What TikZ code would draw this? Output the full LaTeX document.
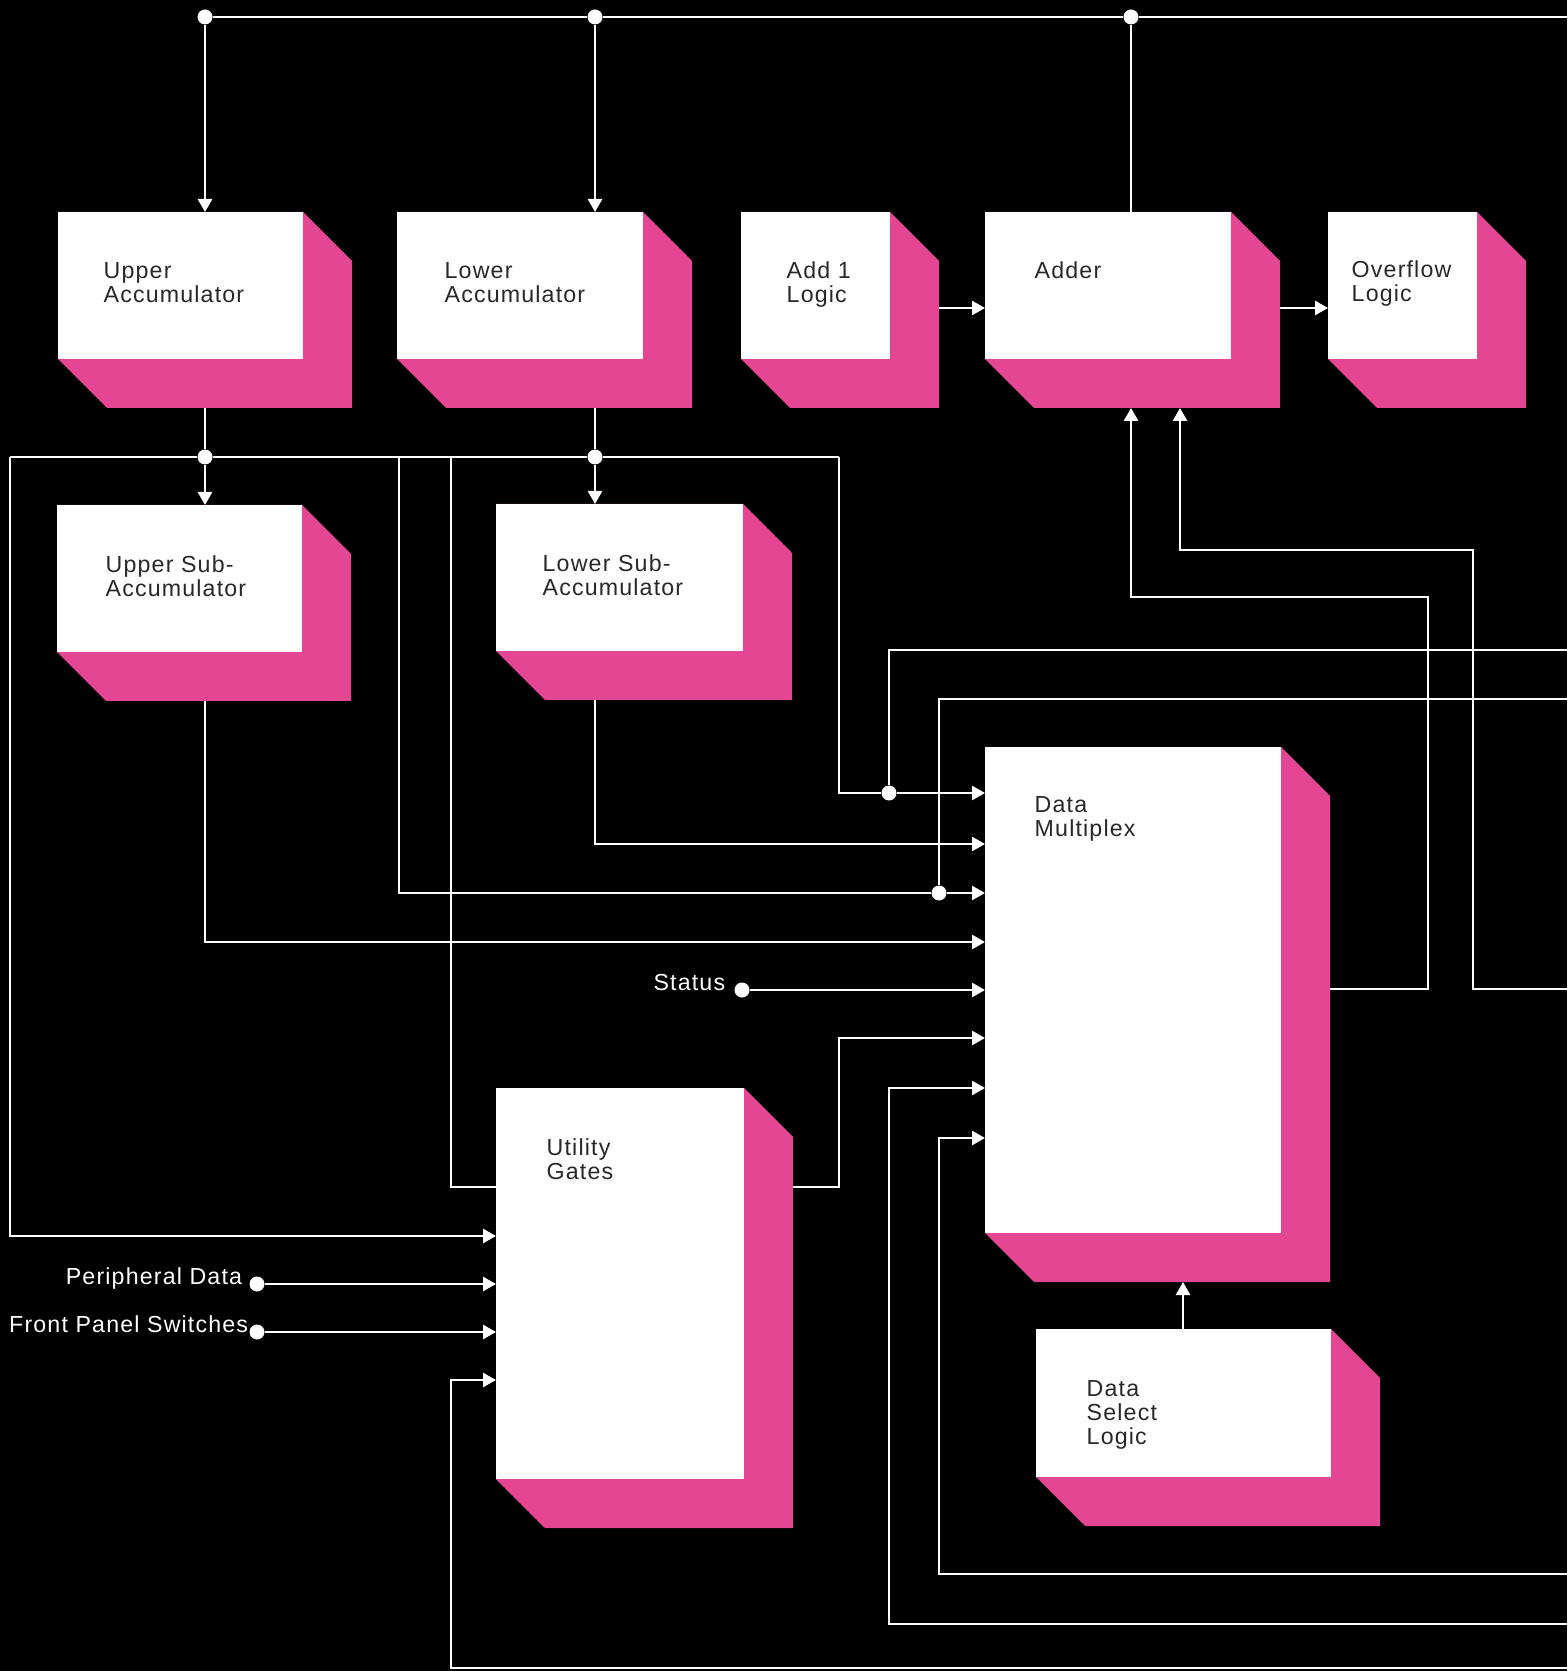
\documentclass[tikz,border=0pt]{standalone}
\usepackage{fontspec}
\setmainfont{Liberation Sans}[LetterSpace=5]
\usetikzlibrary{arrows.meta,positioning}

\definecolor{blockpink}{RGB}{229,70,148}
\definecolor{blocktext}{RGB}{40,40,40}
\def\dep{4.9mm}

\tikzset{
  wire/.style={draw=white, line width=0.26mm},
  arr/.style={wire, -{Triangle[length=1.3mm,width=1.4mm]}},
  dot/.style={circle, fill=white, inner sep=0pt, minimum size=1.5mm},
  block/.style={rectangle, anchor=north west, inner sep=0pt, outer sep=0pt, fill=black,
    path picture={
      \fill[blockpink] (path picture bounding box.north west)
        -- ([xshift=-\dep]path picture bounding box.north east)
        -- ([yshift=-\dep]path picture bounding box.north east)
        -- (path picture bounding box.south east)
        -- ([xshift=\dep]path picture bounding box.south west)
        -- ([yshift=\dep]path picture bounding box.south west) -- cycle;
      \fill[white] (path picture bounding box.north west)
        rectangle ([shift={(-\dep,\dep)}]path picture bounding box.south east);
    }},
  lbl/.style={inner sep=0pt, align=left, text=blocktext,
    font=\fontsize{6.6}{6.8}\selectfont},
  ext/.style={inner sep=0pt, text=white, font=\fontsize{6.6}{6.8}\selectfont}
}

\begin{document}
\begin{tikzpicture}[x=0.1mm, y=-0.1mm]
  \fill[black] (0,0) rectangle (1567,1671);
  \useasboundingbox (0,0) rectangle (1567,1671);

  % blocks
  \node[block, minimum width=29.4mm, minimum height=19.6mm] (ua)  at (58,212)   {};
  \node[block, minimum width=29.5mm, minimum height=19.6mm] (la)  at (397,212)  {};
  \node[block, minimum width=19.8mm, minimum height=19.6mm] (aol) at (741,212)  {};
  \node[block, minimum width=29.5mm, minimum height=19.6mm] (add) at (985,212)  {};
  \node[block, minimum width=19.8mm, minimum height=19.6mm] (ovf) at (1328,212) {};
  \node[block, minimum width=29.4mm, minimum height=19.6mm] (usa) at (57,505)   {};
  \node[block, minimum width=29.6mm, minimum height=19.6mm] (lsa) at (496,504)  {};
  \node[block, minimum width=34.5mm, minimum height=53.5mm] (dm)  at (985,747)  {};
  \node[block, minimum width=29.7mm, minimum height=44.0mm] (ug)  at (496,1088) {};
  \node[block, minimum width=34.4mm, minimum height=19.7mm] (dsl) at (1036,1329) {};

  \node[lbl, below right=5.0mm and 4.5mm of ua.north west]  (uaT)  {Upper\\Accumulator};
  \node[lbl, below right=5.0mm and 4.7mm of la.north west]  (laT)  {Lower\\Accumulator};
  \node[lbl, below right=4.9mm and 4.5mm of aol.north west] (aolT) {Add 1\\Logic};
  \node[lbl, below right=4.9mm and 4.9mm of add.north west] (addT) {Adder};
  \node[lbl, below right=4.8mm and 2.3mm of ovf.north west] (ovfT) {Overflow\\Logic};
  \node[lbl, below right=5.0mm and 4.8mm of usa.north west] (usaT) {Upper Sub-\\Accumulator};
  \node[lbl, below right=5.0mm and 4.6mm of lsa.north west] (lsaT) {Lower Sub-\\Accumulator};
  \node[lbl, below right=4.9mm and 4.9mm of dm.north west]  (dmT)  {Data\\Multiplex};
  \node[lbl, below right=5.0mm and 5.0mm of ug.north west]  (ugT)  {Utility\\Gates};
  \node[lbl, below right=5.1mm and 5.0mm of dsl.north west] (dslT) {Data\\Select\\Logic};

  % junctions and inputs
  \node[dot] (t1) at (205,17)  {};
  \node[dot] (t2) at (595,17)  {};
  \node[dot] (t3) at (1131,17) {};
  \node[dot] (b1) at (205,457) {};
  \node[dot] (b2) at (595,457) {};
  \node[dot] (m1) at (889,793) {};
  \node[dot] (m3) at (939,893) {};
  \node[dot] (st) at (742,990) {};
  \node[dot] (pd) at (257,1284) {};
  \node[dot] (fp) at (257,1332) {};

  \node[ext, left=0.8mm of st.west, anchor=base east] (stT) {Status};
  \node[ext, left=0.6mm of pd.west, anchor=base east] (pdT) {Peripheral Data};
  \node[ext, left=0.0mm of fp.west, anchor=base east] (fpT) {Front Panel Switches};

  \coordinate (topR) at (1567,17);
  \coordinate (bl)   at (10,457);
  \coordinate (bx1)  at (399,457);
  \coordinate (bx2)  at (451,457);
  \coordinate (br)   at (839,457);
  \coordinate (selA) at (1567,650);
  \coordinate (selB) at (1567,699);
  \coordinate (sumB) at (1567,989);
  \coordinate (inB)  at (1567,1574);
  \coordinate (inA)  at (1567,1624);
  \coordinate (inC)  at (1567,1668);

  % top bus
  \draw[wire] (t1) -- (t2) -- (t3) -- (topR);
  \draw[arr] (t1) -- (t1 |- ua.north);
  \draw[arr] (t2) -- (t2 |- la.north);
  \draw[wire] (t3) -- (t3 |- add.north);

  % accumulator bus
  \draw[arr] (t1 |- ua.south) -- (b1) -- (b1 |- usa.north);
  \draw[arr] (t2 |- la.south) -- (b2) -- (b2 |- lsa.north);
  \draw[wire] (bl) -- (b1) -- (b2) -- (br);
  \draw[arr] (br) |- (m1) -- (m1 -| dm.west);
  \draw[wire] (m1) |- (selA);
  \draw[wire] (m3) |- (selB);
  \draw[arr] (bx1) |- (m3) -- (m3 -| dm.west);
  \draw[wire] (bx2) |- (ug.west |- 0,1187);
  \draw[arr] (bl) |- (ug.west |- 0,1236);

  % into data multiplex
  \draw[arr] (b2 |- lsa.south) |- (dm.west |- 0,844);
  \draw[arr] (b1 |- usa.south) |- (dm.west |- 0,942);
  \draw[arr] (st) -- (st -| dm.west);
  \draw[arr] (ug.east |- 0,1187) -| (br |- 0,1038) -- (dm.west |- 0,1038);
  \draw[arr] (inA) -| (m1 |- 0,1088) -- (dm.west |- 0,1088);
  \draw[arr] (inB) -| (m3 |- 0,1138) -- (dm.west |- 0,1138);
  \draw[arr] (dsl.north -| 1183,0) -- (dm.south -| 1183,0);

  % adder
  \draw[arr] (aol.east |- 0,308) -- (add.west |- 0,308);
  \draw[arr] (add.east |- 0,308) -- (ovf.west |- 0,308);
  \draw[arr] (dm.east |- 0,989) -| (1428,597) -| (add.south -| t3);
  \draw[arr] (sumB) -| (1473,550) -| (add.south -| 1180,0);

  % utility gates
  \draw[arr] (pd) -- (pd -| ug.west);
  \draw[arr] (fp) -- (fp -| ug.west);
  \draw[arr] (inC) -| (bx2 |- 0,1380) -- (ug.west |- 0,1380);
\end{tikzpicture}
\end{document}
